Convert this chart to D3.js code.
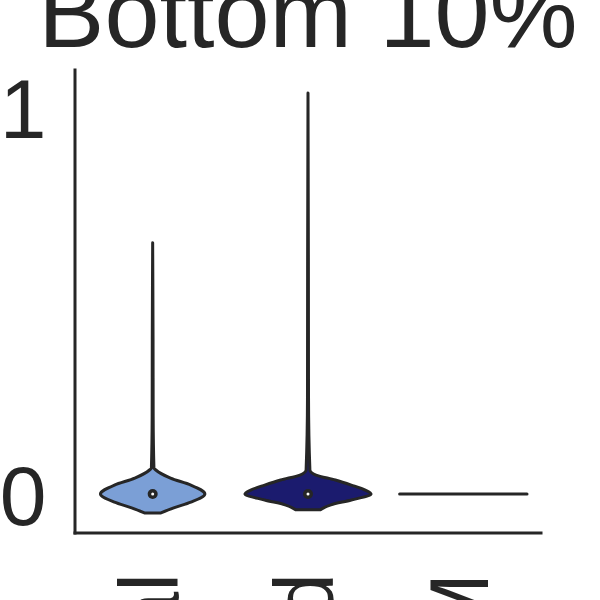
<!DOCTYPE html>
<html><head><meta charset="utf-8">
<script src="https://cdn.jsdelivr.net/npm/d3@7"></script>
<style>body{margin:0;background:#fff}svg{display:block}</style>
</head><body>
<script>
// ---- data ----
const title = "Bottom 10%";
const categories = ["Real", "Generated", "LLM"];
const fills = ["#7b9fd6", "#1b1b6e", "#cccccc"];
const yTicks = [0, 1];
const medians = [0, 0, 0];
// violin 1 profile: value level -> relative density (half-width, max = 1)
const realLevels  = [0.649, 0.40, 0.20, 0.067, 0.062, 0.041, 0.023, 0.0, -0.021, -0.036, -0.049];
const realDensity = [0.0, 0.006, 0.008, 0.02, 0.05, 0.28, 0.60, 0.82, 0.60, 0.33, 0.13];
// violin 2 profile
const genLevels  = [1.036, 0.60, 0.25, 0.062, 0.049, 0.036, 0.023, 0.010, 0.0, -0.0155, -0.028, -0.041];
const genDensity = [0.0, 0.006, 0.008, 0.03, 0.126, 0.43, 0.68, 0.90, 0.99, 0.68, 0.36, 0.19];
// third group: all values identical (degenerate violin drawn as a line)
const llmValues = [0, 0, 0, 0];

// ---- layout ----
const W = 600, H = 600;
const mLeft = 75, mRight = 541, mTop = 70, mBottom = 533;
const font = "'Liberation Sans', Arial, sans-serif";
const ink = "#262626";
const lw = 3;

const svg = d3.select("body").append("svg").attr("width", W).attr("height", H);

const x = d3.scaleBand().domain(categories).range([mLeft, mRight]).padding(0);
const y = d3.scaleLinear().domain([-0.1008, 1.0956]).range([mBottom, mTop]);
const maxHalf = x.bandwidth() * 0.41;
const wScale = d3.scaleLinear().domain([0, 1]).range([0, maxHalf]);

const profiles = [
  {cat: categories[0], levels: realLevels, dens: realDensity, fill: fills[0], med: medians[0]},
  {cat: categories[1], levels: genLevels, dens: genDensity, fill: fills[1], med: medians[1]}
];

profiles.forEach(p => {
  const cx = x(p.cat) + x.bandwidth() / 2;
  const pts = p.levels.map((v, i) => ({v, d: p.dens[i]}));
  const area = d3.area()
    .y(d => y(d.v))
    .x0(d => cx - wScale(d.d))
    .x1(d => cx + wScale(d.d))
    .curve(d3.curveMonotoneY);
  svg.append("path").attr("d", area(pts))
    .attr("fill", p.fill).attr("stroke", ink).attr("stroke-width", lw)
    .attr("stroke-linejoin", "round");
  svg.append("circle").attr("cx", cx).attr("cy", y(p.med)).attr("r", 5).attr("fill", ink);
  svg.append("circle").attr("cx", cx).attr("cy", y(p.med)).attr("r", 1.5).attr("fill", "#fff");
});

// degenerate violin
{
  const cx = x(categories[2]) + x.bandwidth() / 2;
  const v = d3.median(llmValues);
  svg.append("line")
    .attr("x1", cx - maxHalf).attr("x2", cx + maxHalf)
    .attr("y1", y(v)).attr("y2", y(v))
    .attr("stroke", ink).attr("stroke-width", lw).attr("stroke-linecap", "round");
}

// axes
const yAxis = d3.axisLeft(y).tickValues(yTicks).tickSize(0).tickPadding(28.5).tickFormat(d3.format("d"));
const gy = svg.append("g").attr("transform", `translate(${mLeft},0)`).call(yAxis);
gy.select(".domain").remove();
gy.selectAll("text").attr("font-size", 84).attr("font-family", font).attr("fill", ink).attr("dy", "0.36em");

const xAxis = d3.axisBottom(x).tickSize(0);
const gx = svg.append("g").attr("transform", `translate(0,${mBottom})`).call(xAxis);
gx.select(".domain").remove();
gx.selectAll("text")
  .attr("x", 0).attr("y", 0).attr("dy", 0)
  .attr("transform", "translate(25,40) rotate(-90)")
  .attr("text-anchor", "end")
  .attr("font-size", 84).attr("font-family", font).attr("fill", ink);

// spines
svg.append("line").attr("x1", mLeft).attr("x2", mLeft).attr("y1", mTop).attr("y2", mBottom)
  .attr("stroke", ink).attr("stroke-width", lw).attr("stroke-linecap", "square");
svg.append("line").attr("x1", mLeft).attr("x2", mRight).attr("y1", mBottom).attr("y2", mBottom)
  .attr("stroke", ink).attr("stroke-width", lw).attr("stroke-linecap", "square");

// title
svg.append("text").attr("x", (mLeft + mRight) / 2).attr("y", 47)
  .attr("text-anchor", "middle").attr("font-size", 99).attr("font-family", font)
  .attr("fill", ink).text(title);
</script>
</body></html>
